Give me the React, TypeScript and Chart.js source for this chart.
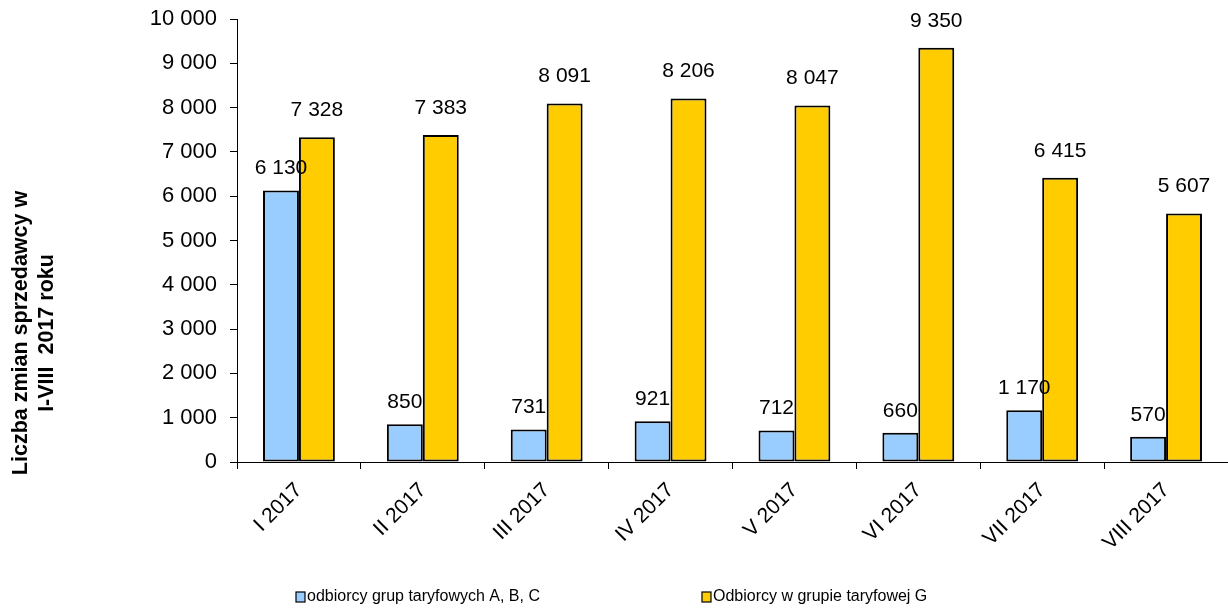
import React, { useEffect, useRef } from "react";
import { Chart, registerables } from "chart.js";

Chart.register(...registerables);

const categories = ["I 2017", "II 2017", "III 2017", "IV 2017", "V 2017", "VI 2017", "VII 2017", "VIII 2017"];
const seriesABC = [6130, 850, 731, 921, 712, 660, 1170, 570];
const seriesG = [7328, 7383, 8091, 8206, 8047, 9350, 6415, 5607];
const seriesNames = ["odbiorcy grup taryfowych A, B, C", "Odbiorcy w grupie taryfowej G"];
const yTitleLines = ["Liczba zmian sprzedawcy w", "I-VIII  2017 roku"];
const yTicksMax = 10000;
const yTicksStep = 1000;

const FONT = "'Liberation Sans', Arial, sans-serif";

const fmt = (v: number) => String(Math.round(v)).replace(/\B(?=(\d{3})+(?!\d))/g, " ");

const labelsPlugin = {
  id: "barLabels",
  afterDatasetsDraw(chart: any) {
    const ctx = chart.ctx;
    ctx.save();
    ctx.font = `21px ${FONT}`;
    ctx.fillStyle = "#000";
    ctx.textAlign = "center";
    ctx.textBaseline = "middle";
    chart.data.datasets.forEach((ds: any, di: number) => {
      const meta = chart.getDatasetMeta(di);
      meta.data.forEach((el: any, i: number) => {
        const off = di === 0 ? 22 : 27;
        ctx.fillText(fmt(ds.data[i]), el.x, el.y - off);
      });
    });
    ctx.restore();
  },
};

const titleLegendPlugin = {
  id: "titleLegend",
  afterDraw(chart: any) {
    const ctx = chart.ctx;
    ctx.save();
    // y-axis title
    ctx.translate(21, 333);
    ctx.rotate(-Math.PI / 2);
    ctx.font = `bold 21.5px ${FONT}`;
    ctx.fillStyle = "#000";
    ctx.textAlign = "center";
    ctx.textBaseline = "middle";
    ctx.fillText(yTitleLines[0], 0, 0);
    ctx.fillText(yTitleLines[1], 0, 26);
    ctx.restore();

    // legend
    ctx.save();
    ctx.font = `16px ${FONT}`;
    ctx.textBaseline = "middle";
    ctx.textAlign = "left";
    let x = 296;
    const y = 597;
    chart.data.datasets.forEach((ds: any) => {
      ctx.fillStyle = ds.backgroundColor;
      ctx.fillRect(x, y - 5, 9, 10);
      ctx.strokeStyle = "#000";
      ctx.lineWidth = 1.2;
      ctx.strokeRect(x, y - 5, 9, 10);
      ctx.fillStyle = "#000";
      ctx.fillText(ds.label, x + 11, y);
      const w = ctx.measureText(ds.label).width;
      x += 11 + w + 162;
    });
    ctx.restore();
  },
};

export default function App() {
  const ref = useRef<HTMLCanvasElement | null>(null);
  useEffect(() => {
    if (!ref.current) return;
    Chart.defaults.font.family = FONT;
    const chart = new Chart(ref.current, {
      type: "bar",
      data: {
        labels: categories,
        datasets: [
          {
            label: seriesNames[0],
            data: seriesABC,
            backgroundColor: "#99CCFF",
            borderColor: "#000",
            borderWidth: 2,
            borderSkipped: false,
          },
          {
            label: seriesNames[1],
            data: seriesG,
            backgroundColor: "#FFCC00",
            borderColor: "#000",
            borderWidth: 2,
            borderSkipped: false,
          },
        ],
      },
      options: {
        animation: false,
        responsive: true,
        maintainAspectRatio: false,
        layout: { padding: { top: 19, left: 0, right: 0, bottom: 0 } },
        plugins: { legend: { display: false }, tooltip: { enabled: false } },
        datasets: { bar: { categoryPercentage: 0.58, barPercentage: 1 } },
        scales: {
          x: {
            grid: { display: true, drawOnChartArea: false, drawTicks: true, tickLength: 7, color: "#000", offset: true },
            border: { display: true, color: "#000", width: 1 },
            ticks: { color: "#000", font: { size: 21 }, maxRotation: 45, minRotation: 45, padding: 9, autoSkip: false },
            afterFit: (s: any) => {
              s.height = 147;
              s.paddingLeft = 0;
              s.paddingRight = 0;
            },
          },
          y: {
            min: 0,
            max: yTicksMax,
            grid: { display: true, drawOnChartArea: false, drawTicks: true, tickLength: 7, color: "#000" },
            border: { display: true, color: "#000", width: 1 },
            ticks: { stepSize: yTicksStep, color: "#000", font: { size: 22 }, padding: 13, callback: (v: any) => fmt(Number(v)) },
            afterFit: (s: any) => {
              s.width = 237;
              s.paddingTop = 0;
              s.paddingBottom = 0;
            },
          },
        },
      } as any,
      plugins: [labelsPlugin, titleLegendPlugin],
    });
    return () => chart.destroy();
  }, []);
  return (
    <div style={{ position: "fixed", left: 0, top: 0, width: 1228, height: 609, background: "#fff" }}>
      <canvas ref={ref} />
    </div>
  );
}
